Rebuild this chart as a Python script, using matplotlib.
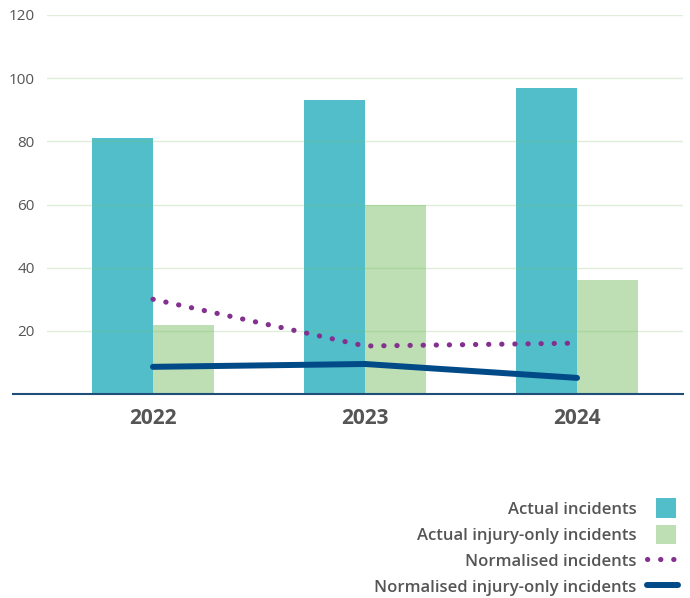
import matplotlib.pyplot as plt
from matplotlib.patches import Patch, Rectangle
from matplotlib.lines import Line2D
from matplotlib.legend_handler import HandlerPatch
import numpy as np

# chart data
years = ["2022", "2023", "2024"]
actual = [81, 93, 97]
actual_injury = [22, 60, 36]
norm_incidents = [30, 15.2, 16.1]
norm_injury = [8.6, 9.5, 5.1]

TEAL = "#52BECA"
GREEN = "#BDDFB3"
PURPLE = "#84308F"
NAVY = "#004A87"
GREY = "#555555"

plt.rcParams['font.family'] = ['Open Sans', 'DejaVu Sans']

fig = plt.figure(figsize=(6.9, 5.98), dpi=100)
ax = fig.add_axes([47 / 690, 1 - 394 / 598, 636 / 690, 379 / 598])

x = np.arange(len(years))
w = 0.29
ax.bar(x - w / 2, actual, width=w, color=TEAL, zorder=1)
ax.bar(x + w / 2, actual_injury, width=w, color=GREEN, zorder=1)

# gridlines sit over the bars
ax.set_axisbelow(False)
ax.yaxis.grid(True, color="#7DBF6A", linewidth=1, alpha=0.25, zorder=2)

ax.plot(x, norm_incidents, color=PURPLE, linewidth=3.7,
        linestyle=(0, (0.05, 2.5)), dash_capstyle='round', zorder=3)
ax.plot(x, norm_injury, color=NAVY, linewidth=4.3,
        solid_capstyle='round', zorder=3)

ax.set_xlim(-0.5, 2.5)
ax.set_ylim(0, 120)
ax.set_yticks(range(20, 121, 20))
ax.set_xticks(x)
ax.set_xticklabels(years, fontsize=15, fontweight='bold', color=GREY)
ax.tick_params(axis='y', length=0, pad=9, labelsize=11, labelcolor=GREY)
ax.tick_params(axis='x', length=0, pad=10)
for s in ["top", "right", "left", "bottom"]:
    ax.spines[s].set_visible(False)

# base line running past the y labels
fig.add_artist(Line2D([13 / 690, 683 / 690], [1 - 394 / 598] * 2,
                      color="#1F4E79", linewidth=1.5))


def square(legend, orig_handle, xdescent, ydescent, width, height, fontsize):
    s = 14
    return Rectangle((width - s - 2 - xdescent, height / 2 - s / 2 - ydescent), s, s)


handles = [
    Patch(facecolor=TEAL, edgecolor='none', label="Actual incidents"),
    Patch(facecolor=GREEN, edgecolor='none', label="Actual injury-only incidents"),
    Line2D([], [], color=PURPLE, linewidth=3.7, linestyle=(0, (0.05, 2.5)),
           dash_capstyle='round', label="Normalised incidents"),
    Line2D([], [], color=NAVY, linewidth=4.3, solid_capstyle='round',
           label="Normalised injury-only incidents"),
]
leg = fig.legend(handles=handles, loc='upper right',
                 bbox_to_anchor=(685 / 690, 1 - 493 / 598),
                 markerfirst=False, frameon=False, fontsize=12,
                 handlelength=1.9, handleheight=1.2, labelspacing=0.48,
                 handletextpad=0.6, borderaxespad=0,
                 handler_map={Patch: HandlerPatch(patch_func=square)})
for t in leg.get_texts():
    t.set_color(GREY)
    t.set_fontweight('semibold')

fig.savefig("out.png", dpi=100)
